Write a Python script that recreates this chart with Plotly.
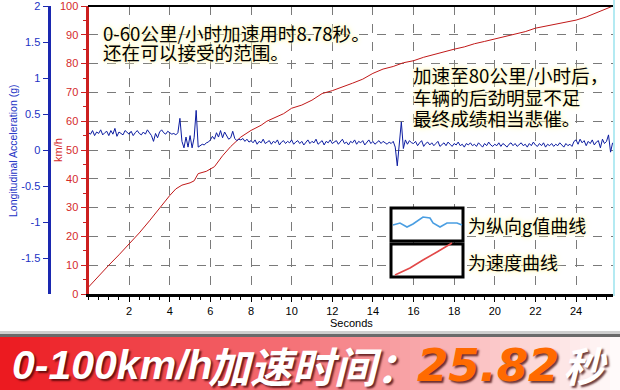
import plotly.graph_objects as go

W, H = 620, 390

# ---------------- data ----------------
SPEED_T = [0, 0.5, 1, 1.5, 2, 2.5, 3, 3.5, 4, 4.3, 4.6, 5.0, 5.2, 5.4, 5.8, 6.2, 6.6, 7.0,
           7.5, 8.0, 8.5, 8.78, 9.2, 9.6, 10.0, 10.5, 11.0, 11.5, 12.0, 12.5, 13.0, 13.5,
           14.0, 14.5, 15.0, 15.5, 16.0, 16.5, 17.0, 17.5, 18.0, 18.5, 19.0, 19.5, 20.0,
           20.5, 21.0, 21.5, 22.0, 22.5, 23.0, 23.5, 24.0, 24.5, 25.0, 25.4, 25.82]
SPEED_KMH = [2.4, 6.3, 10.0, 13.6, 17.3, 21.2, 25.4, 30.0, 34.2, 36.5, 37.8, 38.6, 39.3,
             41.8, 42.6, 44.2, 48.0, 51.2, 54.5, 56.8, 58.6, 60.0, 61.3, 62.6, 64.5, 65.6,
             67.3, 69.6, 70.6, 71.8, 73.2, 74.6, 76.6, 78.1, 79.0, 80.3, 81.0, 82.2, 83.2,
             84.0, 85.0, 85.8, 86.9, 87.7, 88.6, 89.5, 90.3, 91.1, 92.3, 93.0, 93.8, 94.3,
             95.1, 96.2, 97.6, 98.6, 100.0]

ACC_START = 0.0   # s, first sample
ACC_STEP = 0.1    # s, sampling interval
ACC_G = [
    0.24, 0.22, 0.27, 0.20, 0.25, 0.23, 0.28, 0.21, 0.24, 0.26,
    0.20, 0.27, 0.22, 0.30, 0.19, 0.25, 0.23, 0.21, 0.27, 0.24,
    0.22, 0.26, 0.20, 0.24, 0.27, 0.23, 0.21, 0.25, 0.22, 0.28,
    0.24, 0.20, 0.12, 0.23, 0.17, 0.25, 0.28, 0.24, 0.22, 0.26,
    0.24, 0.22, 0.23, 0.21, 0.24, 0.44, 0.12, 0.03, 0.18, 0.04,
    0.20, 0.03, 0.17, 0.55, 0.04, 0.06, 0.08, 0.07, 0.10, 0.11,
    0.14, 0.19, 0.15, 0.24, 0.18, 0.27, 0.17, 0.25, 0.20, 0.15,
    0.17, 0.26, 0.16, 0.13, 0.15, 0.14, 0.16, 0.12, 0.15, 0.11,
    0.13, 0.10, 0.14, 0.08, 0.12, 0.10, 0.15, 0.09, 0.11, 0.13,
    0.08, 0.12, 0.10, 0.14, 0.07, 0.11, 0.13, 0.09, 0.12, 0.10,
    0.14, 0.08, 0.11, 0.13, 0.09, 0.12, 0.07, 0.11, 0.14, 0.09,
    0.12, 0.10, 0.15, 0.08, 0.11, 0.13, 0.07, 0.12, 0.10, 0.14,
    0.09, 0.11, 0.13, 0.08, 0.12, 0.15, 0.09, 0.11, 0.07, 0.12,
    0.10, 0.14, 0.08, 0.12, 0.10, 0.13, 0.07, 0.11, 0.14, 0.09,
    0.12, 0.08, 0.11, 0.13, 0.09, 0.12, 0.10, 0.08, 0.11, 0.09,
    0.12, 0.04, -0.22, 0.05, 0.39, 0.02, 0.14, 0.08, 0.13, 0.10,
    0.09, 0.12, 0.06, 0.10, 0.13, 0.05, 0.09, 0.11, 0.07, 0.10,
    0.06, 0.09, 0.12, 0.05, 0.08, 0.10, 0.06, 0.11, 0.08, 0.05,
    0.09, 0.07, 0.11, 0.06, 0.08, 0.04, 0.09, 0.07, 0.10, 0.06,
    0.08, 0.05, 0.10, 0.07, 0.04, 0.09, 0.06, 0.11, 0.07, 0.05,
    0.08, 0.06, 0.10, 0.05, 0.09, 0.07, 0.04, 0.08, 0.10, 0.06,
    0.09, 0.05, 0.07, 0.10, 0.06, 0.08, 0.04, 0.09, 0.06, 0.11,
    0.07, 0.05, 0.09, 0.06, 0.10, 0.04, 0.08, 0.06, 0.09, 0.05,
    0.08, 0.06, 0.10, 0.07, 0.04, 0.09, 0.06, 0.08, 0.05, 0.12,
    0.14, 0.08, 0.15, 0.10, 0.13, 0.06, 0.12, 0.09, 0.14, 0.07,
    0.11, 0.13, 0.03, 0.15, 0.09, 0.12, 0.21, -0.03, 0.10,
]

X_MAX = 25.82
X_TICKS = [2, 4, 6, 8, 10, 12, 14, 16, 18, 20, 22, 24]
SPEED_TICKS = [0, 10, 20, 30, 40, 50, 60, 70, 80, 90, 100]
ACC_TICKS = [-1.5, -1, -0.5, 0, 0.5, 1, 1.5, 2]
ACC_TICK_TEXT = ["-1.5", "-1", "-0.5", "0", "0.5", "1", "1.5", "2"]

acc_t = [round(ACC_START + i * ACC_STEP, 3) for i in range(len(ACC_G))]


def PX(x):
    return x / W


def PY(y):
    return 1 - y / H


RED = "#cc1f1f"
BLUE = "#1a28b0"
CJK = "Noto Sans CJK SC"
LAT = "Liberation Sans"

fig = go.Figure()
fig.add_trace(go.Scatter(x=SPEED_T, y=SPEED_KMH, mode="lines",
                         line=dict(color="#c01818", width=1), xaxis="x", yaxis="y",
                         hoverinfo="skip"))
fig.add_trace(go.Scatter(x=acc_t, y=ACC_G, mode="lines",
                         line=dict(color="#0c1ca0", width=1), xaxis="x", yaxis="y2",
                         hoverinfo="skip"))

shapes = []
# plot top border and right edge
shapes.append(dict(type="line", xref="paper", yref="paper", x0=PX(88), x1=PX(613),
                   y0=PY(6), y1=PY(6), line=dict(color="black", width=2)))
shapes.append(dict(type="line", xref="paper", yref="paper", x0=PX(614), x1=PX(614),
                   y0=PY(0), y1=PY(296), line=dict(color="#b4eaf2", width=2)))

# legend icon boxes
for (x0, y0, x1, y1) in [(391, 208, 463, 241), (391, 244, 463, 277)]:
    shapes.append(dict(type="rect", xref="paper", yref="paper",
                       x0=PX(x0), x1=PX(x1), y0=PY(y1), y1=PY(y0),
                       fillcolor="white", line=dict(color="black", width=3)))


def path_from(pts):
    return "M " + " L ".join(f"{PX(x):.5f},{PY(y):.5f}" for x, y in pts)


blue_icon = [(393, 225), (400, 223), (407, 227), (413, 224), (423, 217), (430, 218),
             (433, 223), (440, 227), (447, 223), (457, 223), (462, 225)]
red_icon = [(395, 275), (410, 268), (423, 260), (437, 252), (452, 243)]
shapes.append(dict(type="path", xref="paper", yref="paper", path=path_from(blue_icon),
                   line=dict(color="#4a9ee2", width=1.6)))
shapes.append(dict(type="path", xref="paper", yref="paper", path=path_from(red_icon),
                   line=dict(color="#e24848", width=1.6)))

# bottom banner: shadow + gradient
shapes.append(dict(type="rect", xref="paper", yref="paper", x0=0, x1=1,
                   y0=PY(334), y1=PY(331), fillcolor="#cfcfcf", line=dict(width=0)))
shapes.append(dict(type="rect", xref="paper", yref="paper", x0=0, x1=1,
                   y0=PY(337), y1=PY(334), fillcolor="#6a6a6a", line=dict(width=0)))
stops = [(0.0, (236, 24, 30)), (0.45, (244, 108, 114)), (0.85, (252, 214, 214)),
         (1.0, (255, 252, 252))]


def grad(f):
    for (f0, c0), (f1, c1) in zip(stops[:-1], stops[1:]):
        if f0 <= f <= f1:
            t = (f - f0) / (f1 - f0)
            return "rgb(%d,%d,%d)" % tuple(round(a + (b - a) * t) for a, b in zip(c0, c1))
    return "rgb(255,255,255)"


N = 62
for i in range(N):
    shapes.append(dict(type="rect", xref="paper", yref="paper",
                       x0=i / N, x1=min(1, (i + 1.2) / N), y0=0, y1=PY(337),
                       fillcolor=grad((i + 0.5) / N), line=dict(width=0)))

glow = "0 0 3px #fff6b8, 0 0 5px #fff6b8, 0 0 8px #fffbd8"
ann = []


def text(t, x, y, size=18.6, color="black", family=CJK, xanchor="left", shadow=glow,
         angle=0, weight="normal", style="normal"):
    ann.append(dict(text=t, xref="paper", yref="paper", x=PX(x), y=PY(y),
                    xanchor=xanchor, yanchor="middle", showarrow=False, textangle=angle,
                    font=dict(family=family, size=size, color=color, shadow=shadow,
                              weight=weight, style=style)))


text("0-60公里/小时加速用时8.78秒。", 101, 32)
text("还在可以接受的范围。", 101, 52)
text("加速至80公里/小时后，", 411, 74)
text("车辆的后劲明显不足", 411, 96)
text("最终成绩相当悲催。", 411, 117)
text("为纵向g值曲线", 466, 225, size=18)
text("为速度曲线", 466, 262, size=18)

# axis titles
text("Longitudinal Acceleration (g)", 13, 151, size=10.5, color="#2232c4", family=LAT,
     xanchor="center", shadow="none", angle=-90)
text("km/h", 58, 150, size=11, color="#d42a2a", family=LAT, xanchor="center",
     shadow="none", angle=-90)
text("Seconds", 351, 323, size=11, color="black", family=LAT, xanchor="center",
     shadow="none")

# banner text
bshadow = "2px 2px 2px rgba(60,0,0,0.75)"
text("0-100km/h", 10, 365, size=41, color="white", family=LAT, shadow=bshadow,
     weight="bold", style="italic")
text("加速时间：", 206, 364, size=42, color="white", family=CJK, shadow=bshadow,
     weight="bold", style="italic")
text("25.82", 415, 365, size=45, color="#ff6a00", family="DejaVu Sans", shadow=bshadow,
     weight="bold", style="italic")
text("秒", 561, 364, size=41, color="white", family=CJK, shadow=bshadow,
     weight="bold", style="italic")

fig.update_layout(
    width=W, height=H, autosize=False,
    margin=dict(l=0, r=0, t=0, b=0, autoexpand=False),
    paper_bgcolor="white", plot_bgcolor="white",
    showlegend=False,
    xaxis=dict(domain=[PX(88.5), PX(613)], range=[0, X_MAX], tickvals=X_TICKS,
               showgrid=True, gridcolor="#7a7a7a", griddash="dash", gridwidth=1,
               zeroline=False, showline=True, linecolor="black", linewidth=3,
               ticks="outside", ticklen=5, tickwidth=1, tickcolor="black",
               minor=dict(dtick=0.5, ticks="outside", ticklen=3, tickcolor="black",
                          showgrid=False),
               tickfont=dict(family=LAT, size=11, color="black"), anchor="y",
               automargin=False, ticklabeloverflow="allow"),
    yaxis=dict(domain=[PY(294), PY(6)], range=[0, 100], tickvals=SPEED_TICKS,
               showgrid=True, gridcolor="#7a7a7a", griddash="dash", gridwidth=1,
               zeroline=False, showline=True, linecolor=RED, linewidth=3,
               ticks="outside", ticklen=5, tickwidth=1, tickcolor=RED,
               minor=dict(dtick=5, ticks="outside", ticklen=3, tickcolor=RED,
                          showgrid=False),
               tickfont=dict(family=LAT, size=11, color="#d42a2a"), anchor="x",
               automargin=False, ticklabeloverflow="allow"),
    yaxis2=dict(overlaying="y", anchor="free", position=PX(48.5), side="left",
                range=[-2, 2], tickvals=ACC_TICKS, ticktext=ACC_TICK_TEXT,
                showgrid=False, zeroline=False, showline=True, linecolor=BLUE,
                linewidth=3, ticks="outside", ticklen=5, tickwidth=1, tickcolor=BLUE,
                tickfont=dict(family=LAT, size=11, color="#2232c4"),
                automargin=False, ticklabeloverflow="allow"),
    shapes=shapes,
    annotations=ann,
)

fig.write_html("out.html", config={"displayModeBar": False},
               post_script="document.body.style.margin='0';document.body.style.padding='0';"
                           "document.documentElement.style.overflow='hidden';")
